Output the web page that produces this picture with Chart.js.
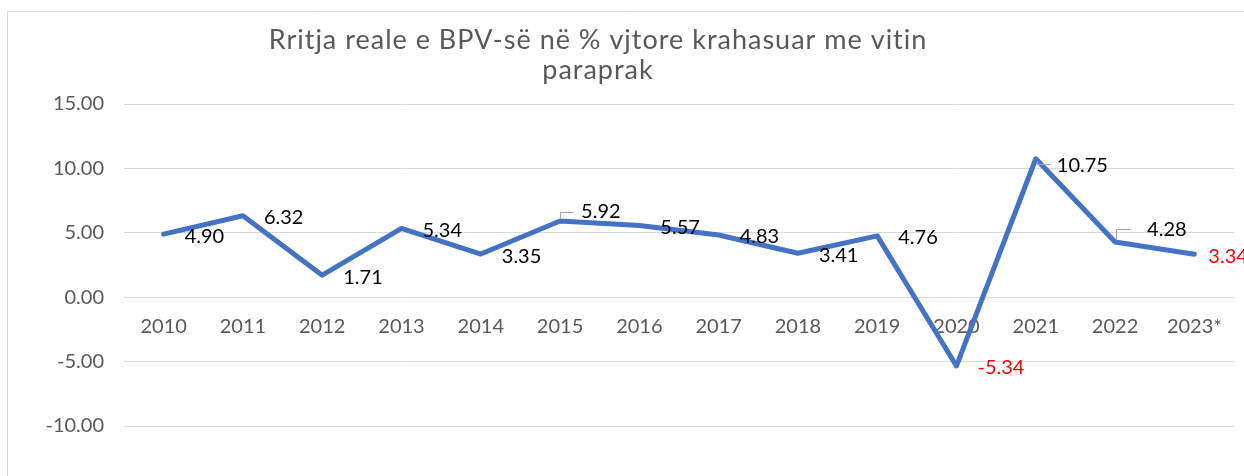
<!DOCTYPE html>
<html>
<head>
<meta charset="utf-8">
<script src="https://cdn.jsdelivr.net/npm/chart.js@4.4.1/dist/chart.umd.min.js"></script>
<style>
  html, body { margin: 0; padding: 0; background: #fff; }
  #wrap { position: relative; width: 1244px; height: 476px; }
</style>
</head>
<body>
<div id="wrap"><canvas id="gdp-chart"></canvas></div>
<script>
// Data
const years = ['2010', '2011', '2012', '2013', '2014', '2015', '2016',
  '2017', '2018', '2019', '2020', '2021', '2022', '2023*'];
const growth = [4.90, 6.32, 1.71, 5.34, 3.35, 5.92, 5.57,
  4.83, 3.41, 4.76, -5.34, 10.75, 4.28, 3.34];
const yTicks = [-10, -5, 0, 5, 10, 15];
const titleLines = ['Rritja reale e BPV-së në % vjtore krahasuar me vitin', 'paraprak'];

// Styling
const FONT = 'Lato';
const GREY_TEXT = '#595959';
const GRID = '#d9d9d9';
const LINE_BLUE = '#4472C4';
const redLabels = [10, 13]; // labels printed in red
// Label placement relative to its point (Excel-style "right"), a few moved with leader lines
const defaultShift = { dx: 21, dy: 2 };
const labelShift = {
  5: { dx: 21, dy: -9, leader: [[0, -3], [0, -9], [13, -9]] },
  11: { dx: 21, dy: 7, leader: [[1, 2], [1, 5], [14, 5]] },
  12: { dx: 32, dy: -13, leader: [[1, -2], [1, -13], [15, -13]] },
  13: { dx: 14, dy: 2 },
};

const framePlugin = {
  id: 'frameAndTitle',
  beforeDraw(c) {
    const { ctx, width, height } = c;
    ctx.save();
    ctx.strokeStyle = GRID;
    ctx.lineWidth = 1;
    ctx.beginPath();
    ctx.moveTo(7.5, height);
    ctx.lineTo(7.5, 11.5);
    ctx.lineTo(width, 11.5);
    ctx.stroke();
    ctx.fillStyle = GREY_TEXT;
    ctx.font = `27px ${FONT}`;
    ctx.letterSpacing = '1px';
    ctx.textAlign = 'center';
    ctx.textBaseline = 'alphabetic';
    ctx.fillText(titleLines[0], 598, 49);
    ctx.fillText(titleLines[1], 598, 79);
    ctx.restore();
  },
};

const valueLabels = {
  id: 'valueLabels',
  afterDatasetsDraw(c) {
    const { ctx } = c;
    const meta = c.getDatasetMeta(0);
    ctx.save();
    ctx.font = `20px ${FONT}`;
    ctx.textAlign = 'left';
    ctx.textBaseline = 'middle';
    meta.data.forEach((pt, i) => {
      const s = labelShift[i] || defaultShift;
      if (s.leader) {
        ctx.strokeStyle = '#a6a6a6';
        ctx.lineWidth = 1;
        ctx.beginPath();
        s.leader.forEach(([lx, ly], k) => {
          const px = Math.round(pt.x + lx) + 0.5;
          const py = Math.round(pt.y + ly) + 0.5;
          if (k === 0) ctx.moveTo(px, py); else ctx.lineTo(px, py);
        });
        ctx.stroke();
      }
      ctx.fillStyle = redLabels.includes(i) ? '#ff0000' : '#000000';
      ctx.fillText(growth[i].toFixed(2), pt.x + s.dx, pt.y + s.dy);
    });
    ctx.restore();
  },
};

const ctx = document.getElementById('gdp-chart');
// eslint-disable-next-line no-unused-vars
const chart = new Chart(ctx, {
  type: 'line',
  data: {
    labels: years,
    datasets: [{
      label: 'Rritja reale e BPV-së',
      data: growth,
      borderColor: LINE_BLUE,
      borderWidth: 5,
      borderCapStyle: 'round',
      borderJoinStyle: 'round',
      pointRadius: 0,
      tension: 0,
      fill: false,
    }],
  },
  options: {
    responsive: true,
    maintainAspectRatio: false,
    animation: false,
    layout: {
      padding: { top: 104, left: 0, right: 10, bottom: 50 },
    },
    scales: {
      x: {
        position: { y: 0 },
        offset: true,
        grid: { display: false, drawTicks: false },
        border: { display: false },
        ticks: {
          color: GREY_TEXT,
          font: { family: FONT, size: 20 },
          padding: 17,
          maxRotation: 0,
          autoSkip: false,
        },
        afterFit: (scale) => { scale.height = 0; },
      },
      y: {
        min: -10,
        max: 15,
        afterBuildTicks: (scale) => { scale.ticks = yTicks.map((v) => ({ value: v })); },
        grid: { color: GRID, lineWidth: 1, drawTicks: false },
        border: { display: false },
        ticks: {
          color: GREY_TEXT,
          font: { family: FONT, size: 20 },
          padding: 20,
          callback: (v) => Number(v).toFixed(2),
        },
        afterFit: (scale) => { scale.width = 124; },
      },
    },
    plugins: {
      legend: { display: false },
      title: { display: false },
      tooltip: { enabled: false },
    },
  },
  plugins: [framePlugin, valueLabels],
});
</script>
</body>
</html>
